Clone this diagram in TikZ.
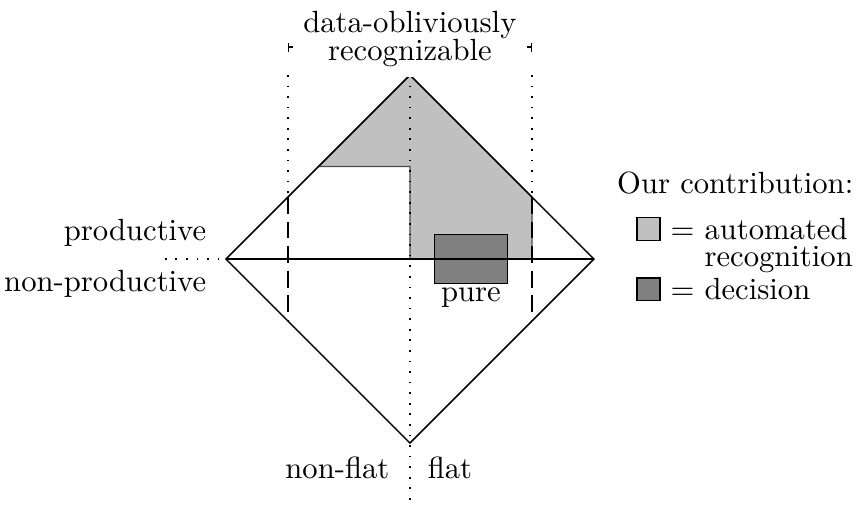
\documentclass[tikz,border=0pt]{standalone}
\usepackage{amsmath,amssymb}
\usepackage{xcolor}
\usepackage{tikz}
\usetikzlibrary{calc,arrows.meta,positioning}
\definecolor{autogray}{HTML}{C0C0C0}
\definecolor{decgray}{HTML}{808080}
\tikzset{dots/.style={line width=0.55pt,dash pattern=on 0.55pt off 2.9pt},
dashln/.style={dash pattern=on 5.5pt off 2.5pt},
lgbox/.style={draw,minimum size=0.26cm,inner sep=0pt},
tight/.style={align=center,font=\fontsize{10pt}{9pt}\selectfont}}

\begin{document}
\begin{tikzpicture}[line width=0.5pt]
\useasboundingbox (-4.70,-2.82) rectangle (5.115,2.97);
% recognised part and decided part
\filldraw[fill=autogray,draw=black!70,line width=0.4pt] (0,2.11) -- (1.40,0.71) -- (1.40,0) -- (0,0) -- (0,1.06) -- (-1.05,1.06) -- cycle;
\node[draw,fill=decgray,minimum width=0.84cm,minimum height=0.56cm,inner sep=0pt] (pure) at (0.70,0) {};
\node[below=0.5pt of pure,inner sep=0.5pt] (purelbl) {pure};
% the square
\draw (0,2.11) -- (2.11,0) -- (0,-2.11) -- (-2.11,0) -- cycle;
\draw (-2.11,0) -- (2.11,0);
\draw[dots] (-2.81,0) -- (-2.11,0);
\draw[dots] (0,2.11) -- (0,-2.82);
\draw[dots] (-1.40,2.11) -- (-1.40,0.71); \draw[dots] (1.40,2.11) -- (1.40,0.71);
\draw[dashln] (-1.40,0.71) -- (-1.40,-0.71); \draw[dashln] (1.40,0.71) -- (1.40,-0.71);
% labels
\draw[line width=0.4pt,{Bar[width=3pt]}-{Bar[width=3pt]}] (-1.40,2.43) -- (1.40,2.43);
\node[tight,fill=white] (obliv) at (0,2.52) {data-obliviously\\recognizable};
\node[left] (prod) at (-2.21,0.30) {productive};
\node[left] (nonprod) at (-2.21,-0.29) {non-productive};
\node[left] (nonflat) at (-0.11,-2.40) {non-flat};
\node[right] (flat) at (0.08,-2.40) {flat};
% legend
\node (legend) at (3.73,0.87) {Our contribution:};
\node[lgbox,fill=autogray] (autobox) at (2.735,0.345) {};
\node[right=3pt of autobox,inner sep=0pt] (autolbl) {$=$ automated};
\node[anchor=base west,inner sep=0pt] (autolbl2) at ([yshift=-8.7pt]autolbl.base west) {\phantom{$=$} recognition};
\node[lgbox,fill=decgray] (decbox) at (2.735,-0.345) {};
\node[right=3pt of decbox,inner sep=0pt] (declbl) {$=$ decision};
\end{tikzpicture}
\end{document}
